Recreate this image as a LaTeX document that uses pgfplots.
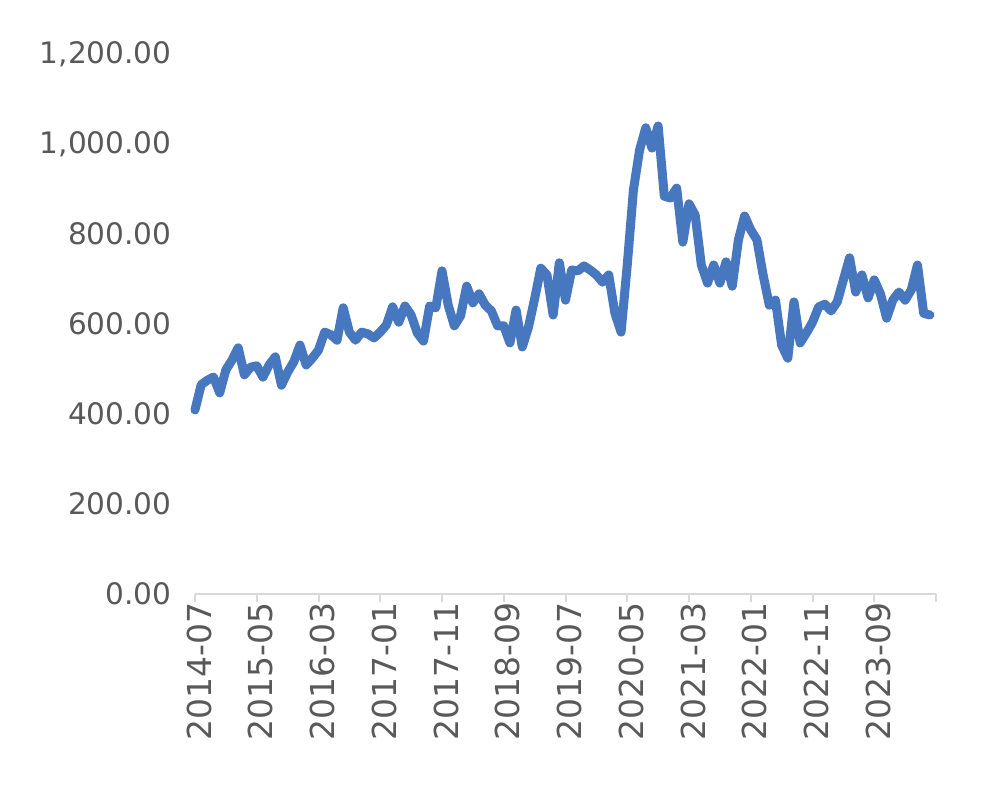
\documentclass[border=0pt]{standalone}
\usepackage{fontspec}
\setmainfont{DejaVu Sans}
\usepackage{pgfplots}
\pgfplotsset{compat=1.18}
\definecolor{lineblue}{HTML}{4677BF}
\definecolor{labgray}{HTML}{595959}
\definecolor{axgray}{HTML}{D9D9D9}
\begin{document}
\fontsize{14.5}{17}\selectfont
\begin{tikzpicture}
\path[use as bounding box] (-97.5pt,-96.5pt) rectangle (394pt,297pt);
\begin{axis}[
  at={(0,0)}, anchor=south west,
  scale only axis, width=370.5pt, height=270pt,
  xmin=0, xmax=120, ymin=0, ymax=1200,
  axis x line*=bottom, axis y line*=left,
  x axis line style={draw=axgray, line width=1pt},
  y axis line style={draw=none},
  xtick={0,10,...,120},
  xticklabels={2014-07,2015-05,2016-03,2017-01,2017-11,2018-09,2019-07,2020-05,2021-03,2022-01,2022-11,2023-09,},
  x tick style={draw=axgray, line width=1pt},
  y tick style={draw=none},
  tick align=outside, major tick length=4pt,
  xticklabel style={rotate=90, anchor=east, inner sep=0pt, yshift=-2pt, text=labgray, font=\fontsize{16.5}{18}\selectfont},
  ytick={0,200,...,1200},
  yticklabel style={text=labgray, anchor=east, inner sep=0pt, xshift=-7.5pt, font=\fontsize{14.8}{17}\selectfont},
  yticklabel={\pgfmathprintnumber[fixed, fixed zerofill, precision=2, 1000 sep={,}]{\tick}},
  /pgf/number format/assume math mode=true,
  clip=false,
]
\end{axis}
\begin{axis}[
  at={(0,0)}, anchor=south west,
  scale only axis, width=370.5pt, height=270pt,
  xmin=0, xmax=120, ymin=0, ymax=1200,
  axis lines=none, ticks=none,
  clip=false,
]
\addplot[lineblue, line width=4.5pt, line join=round, line cap=round] coordinates {
(0,409)(1,465)(2,475)(3,482)(4,447)(5,498)(6,520)(7,547)(8,487)(9,504)
(10,507)(11,482)(12,509)(13,527)(14,464)(15,493)(16,516)(17,553)(18,509)(19,524)
(20,542)(21,582)(22,576)(23,564)(24,636)(25,582)(26,564)(27,582)(28,578)(29,569)
(30,582)(31,598)(32,638)(33,604)(34,640)(35,620)(36,580)(37,562)(38,640)(39,636)
(40,718)(41,642)(42,596)(43,618)(44,684)(45,647)(46,667)(47,642)(48,629)(49,596)
(50,596)(51,558)(52,631)(53,549)(54,593)(55,656)(56,724)(57,709)(58,620)(59,736)
(60,653)(61,720)(62,718)(63,729)(64,720)(65,709)(66,693)(67,709)(68,624)(69,582)
(70,731)(71,898)(72,987)(73,1036)(74,991)(75,1040)(76,884)(77,880)(78,902)(79,782)
(80,867)(81,842)(82,731)(83,691)(84,731)(85,691)(86,738)(87,684)(88,787)(89,840)
(90,809)(91,787)(92,709)(93,642)(94,653)(95,553)(96,524)(97,649)(98,558)(99,580)
(100,604)(101,638)(102,644)(103,629)(104,649)(105,698)(106,747)(107,671)(108,709)(109,658)
(110,698)(111,667)(112,613)(113,653)(114,671)(115,653)(116,676)(117,731)(118,624)(119,620)
};
\end{axis}
\end{tikzpicture}
\end{document}
